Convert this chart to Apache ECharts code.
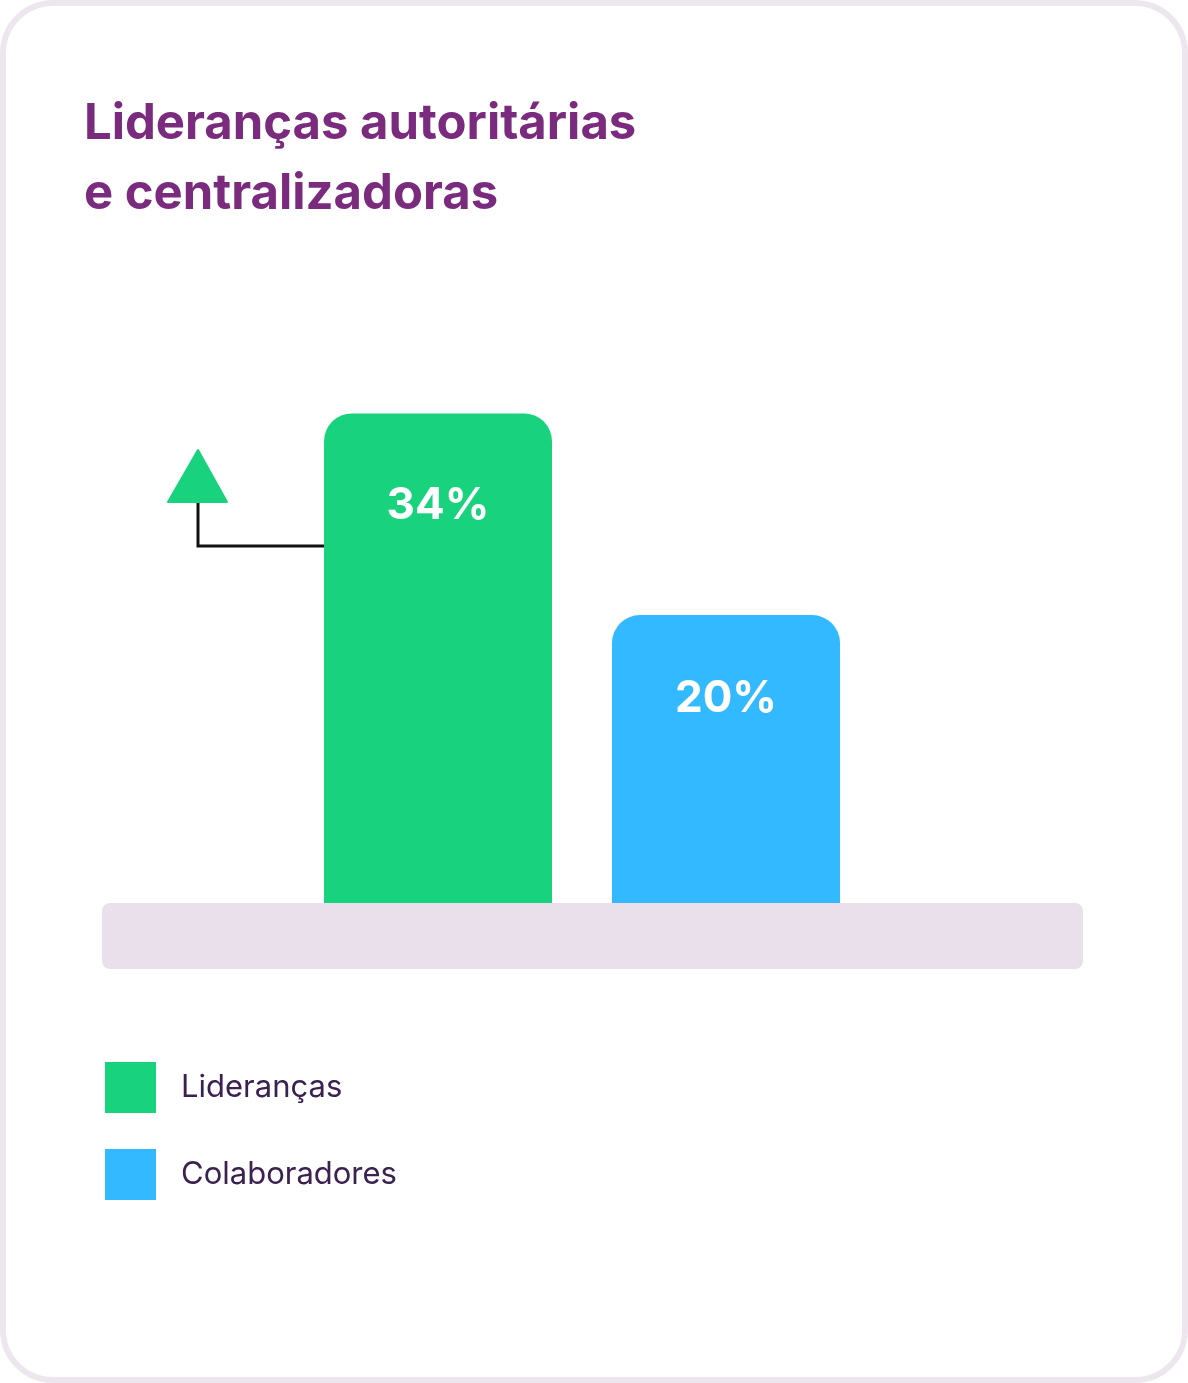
<!DOCTYPE html>
<html lang="pt">
<head>
<meta charset="UTF-8">
<title>Lideranças autoritárias e centralizadoras</title>
<script src="https://cdn.jsdelivr.net/npm/echarts@6/dist/echarts.min.js"></script>
<style>
    html, body { margin: 0; padding: 0; background: #ffffff; }
    #chart { width: 1188px; height: 1383px; }
</style>
</head>
<body>
<div id="chart"></div>
<script>
    var categories = ['Lideranças', 'Colaboradores'];
    var liderancas = [34, null];
    var colaboradores = [null, 20];
    var colors = ['#19D27E', '#33B9FF'];

    var FONT = 'Inter, "Noto Sans", sans-serif';

    var chart = echarts.init(document.getElementById('chart'));

    function valueLabel(offset) {
        return {
            show: true,
            position: ['50%', offset],
            align: 'center',
            verticalAlign: 'middle',
            color: '#ffffff',
            fontFamily: FONT,
            fontWeight: 'bold',
            fontSize: 44,
            formatter: function (p) { return p.value + '%'; }
        };
    }

    var option = {
        animation: false,
        backgroundColor: '#ffffff',
        title: {
            text: 'Lideranças autoritárias\ne centralizadoras',
            left: 84,
            top: 89,
            padding: 0,
            textStyle: {
                color: '#7A2B7E',
                fontFamily: FONT,
                fontWeight: 'bold',
                fontSize: 49,
                lineHeight: 70
            }
        },
        legend: {
            orient: 'vertical',
            left: 105,
            top: 1062,
            padding: 0,
            itemWidth: 51,
            itemHeight: 51,
            itemGap: 36,
            icon: 'rect',
            selectedMode: false,
            data: categories,
            textStyle: {
                color: '#3B2150',
                fontFamily: FONT,
                fontSize: 31,
                padding: [0, 0, 0, 20]
            }
        },
        grid: {
            left: 294,
            right: 318,
            top: 327,
            bottom: 480
        },
        xAxis: {
            type: 'category',
            data: categories,
            axisLine: { show: false },
            axisTick: { show: false },
            axisLabel: { show: false }
        },
        yAxis: {
            type: 'value',
            min: 0,
            max: 40,
            show: false
        },
        series: [
            {
                name: 'Lideranças',
                type: 'bar',
                data: liderancas,
                barWidth: 228,
                barGap: '-100%',
                itemStyle: { color: colors[0], borderRadius: [28, 28, 0, 0] },
                label: valueLabel(92)
            },
            {
                name: 'Colaboradores',
                type: 'bar',
                data: colaboradores,
                barWidth: 228,
                barGap: '-100%',
                itemStyle: { color: colors[1], borderRadius: [28, 28, 0, 0] },
                label: valueLabel(84)
            }
        ],
        graphic: [
            {
                // card
                type: 'rect',
                z: -10,
                shape: { x: 3, y: 3, width: 1182, height: 1377, r: 50 },
                style: { fill: '#ffffff', stroke: '#EEE6EF', lineWidth: 6 }
            },
            {
                // base strip
                type: 'rect',
                shape: { x: 102, y: 903, width: 981, height: 66, r: 8 },
                style: { fill: '#EAE0EC' }
            },
            {
                type: 'polyline',
                shape: { points: [[198, 500], [198, 546], [324, 546]] },
                style: { stroke: '#111111', lineWidth: 3, fill: null }
            },
            {
                type: 'polygon',
                shape: { points: [[198, 450], [227, 502], [168, 502]] },
                style: { fill: colors[0], stroke: colors[0], lineWidth: 2, lineJoin: 'round' }
            }
        ]
    };

    chart.setOption(option);
</script>
</body>
</html>
